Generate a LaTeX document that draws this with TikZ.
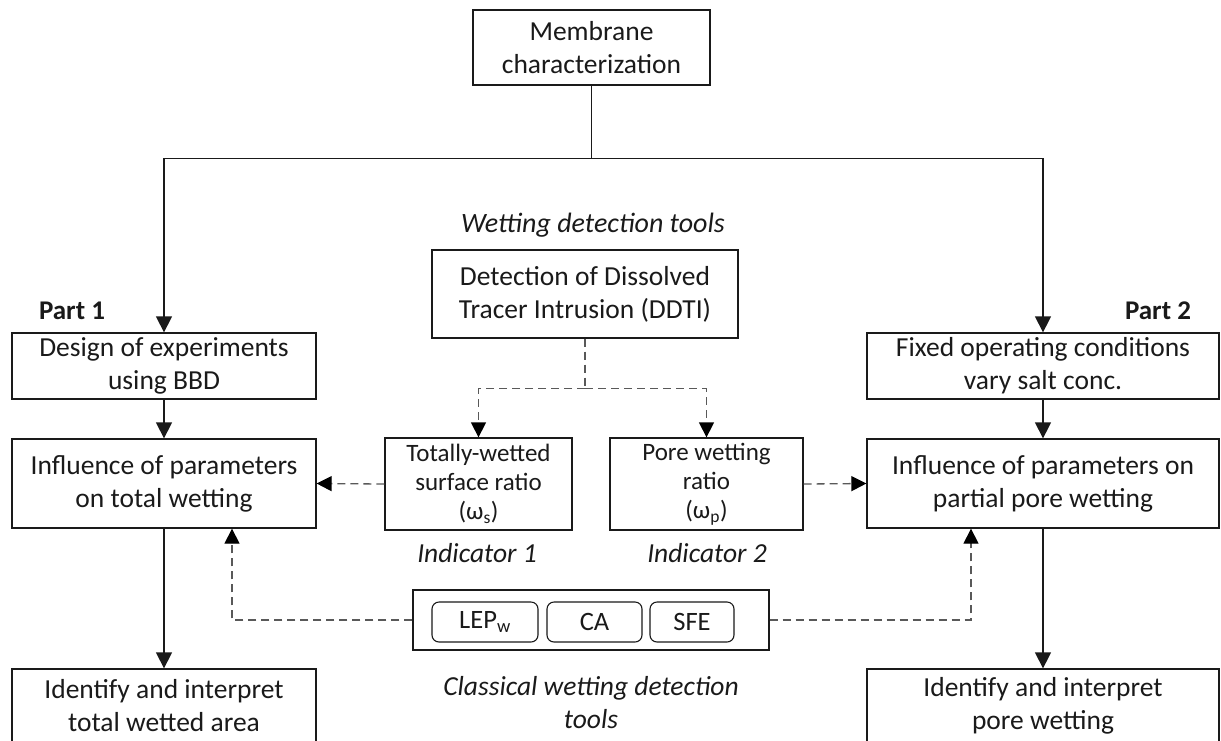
\documentclass[tikz,border=0pt]{standalone}
\usepackage{fontspec}
\setmainfont{Carlito}
\usetikzlibrary{arrows.meta}
\definecolor{ink}{HTML}{1A1A1A}
\definecolor{dashc}{HTML}{595959}
\begin{document}
\begin{tikzpicture}[x=1pt,y=-1pt,
  box/.style={draw=ink, line width=1.3pt, text=ink, align=center, inner sep=0pt,
    font=\fontsize{27.5}{33}\selectfont},
  smallbox/.style={box, font=\fontsize{25}{29}\selectfont},
  pill/.style={draw=ink, line width=1.1pt, text=ink, rounded corners=7pt, inner sep=0pt,
    minimum height=40pt, font=\fontsize{26.5}{30}\selectfont},
  lbl/.style={text=ink, align=center, inner sep=0pt},
  solidarrow/.style={draw=ink, line width=1.3pt, -{Triangle[length=16pt,width=16pt]}},
  solidline/.style={draw=ink, line width=1.3pt},
  dasharrow/.style={draw=dashc, line width=1.3pt, dash pattern=on 8pt off 5pt,
    -{Triangle[length=15pt,width=15pt,color=black]}},
  dashline/.style={draw=dashc, line width=1.3pt, dash pattern=on 8pt off 5pt}
]
\fill[white] (0,0) rectangle (1221,740);
\clip (0,0) rectangle (1221,740);

% main boxes
\node[box, minimum width=237pt, minimum height=75pt] (mem) at (591.5,47.5) {Membrane\\characterization};
\node[box, minimum width=304pt, minimum height=66pt] (design) at (164,366) {Design of experiments\\using BBD};
\node[box, minimum width=352pt, minimum height=66pt] (fixed) at (1043,366) {Fixed operating conditions\\vary salt conc.};
\node[box, minimum width=304pt, minimum height=89pt] (inflL) at (164,483.5) {Influence of parameters\\on total wetting};
\node[box, minimum width=352pt, minimum height=89pt] (inflR) at (1043,483.5) {Influence of parameters on\\partial pore wetting};
\node[box, minimum width=304pt, minimum height=80pt] (idL) at (164,709) {};
\node[box, minimum width=352pt, minimum height=80pt] (idR) at (1043,709) {};
\node[lbl, font=\fontsize{27.5}{33}\selectfont] (idLt) at (164,706) {Identify and interpret\\total wetted area};
\node[lbl, font=\fontsize{27.5}{33}\selectfont] (idRt) at (1043,706) {Identify and interpret\\pore wetting};

\node[box, minimum width=306pt, minimum height=88pt] (ddti) at (585,294) {Detection of Dissolved\\Tracer Intrusion (DDTI)};
\node[smallbox, minimum width=187pt, minimum height=92pt] (tot) at (478.5,484) {Totally-wetted\\surface ratio\\(ω\textsubscript{s})};
\node[smallbox, minimum width=193pt, minimum height=92pt] (pore) at (706.5,484) {Pore wetting\\ratio\\(ω\textsubscript{p})};

% classical tools
\node[draw=ink, line width=1.3pt, minimum width=356pt, minimum height=60pt, inner sep=0pt] (cls) at (591,620) {};
\node[pill, minimum width=106pt] (lep) at (485,622) {LEP\textsubscript{w}};
\node[pill, minimum width=95pt] (ca) at (594.5,622) {CA};
\node[pill, minimum width=84pt] (sfe) at (692,622) {SFE};

% labels
\node[lbl, font=\fontsize{28}{30}\selectfont\itshape] (wdt) at (593,225) {Wetting detection tools};
\node[lbl, font=\fontsize{27}{30}\selectfont\bfseries] (p1) at (72,311) {Part 1};
\node[lbl, font=\fontsize{27}{30}\selectfont\bfseries] (p2) at (1158,311) {Part 2};
\node[lbl, font=\fontsize{27.5}{30}\selectfont\itshape] (ind1) at (477,553) {Indicator 1};
\node[lbl, font=\fontsize{27.5}{30}\selectfont\itshape] (ind2) at (707,553) {Indicator 2};
\node[lbl, font=\fontsize{27.5}{33}\selectfont\itshape] (clst) at (591,703) {Classical wetting detection\\tools};

% solid connectors
\draw[solidline] (mem.south) -- ++(0,73) coordinate (split);
\draw[solidarrow] (split) -| (design.north);
\draw[solidarrow] (split) -| (fixed.north);
\draw[solidarrow] (design.south) -- (inflL.north);
\draw[solidarrow] (fixed.south) -- (inflR.north);
\draw[solidarrow] (inflL.south) -- (idL.north);
\draw[solidarrow] (inflR.south) -- (idR.north);

% dashed connectors
\draw[dashline] (ddti.south) -- ++(0,50) coordinate (dsplit);
\draw[dasharrow] (dsplit) -| (tot.north);
\draw[dasharrow] (dsplit) -| (pore.north);
\draw[dasharrow] (tot.west) -- (inflL.east);
\draw[dasharrow] (pore.east) -- (inflR.west);
\draw[dasharrow] (cls.west) -| ([xshift=68pt]inflL.south);
\draw[dasharrow] (cls.east) -| ([xshift=-72pt]inflR.south);
\end{tikzpicture}
\end{document}
